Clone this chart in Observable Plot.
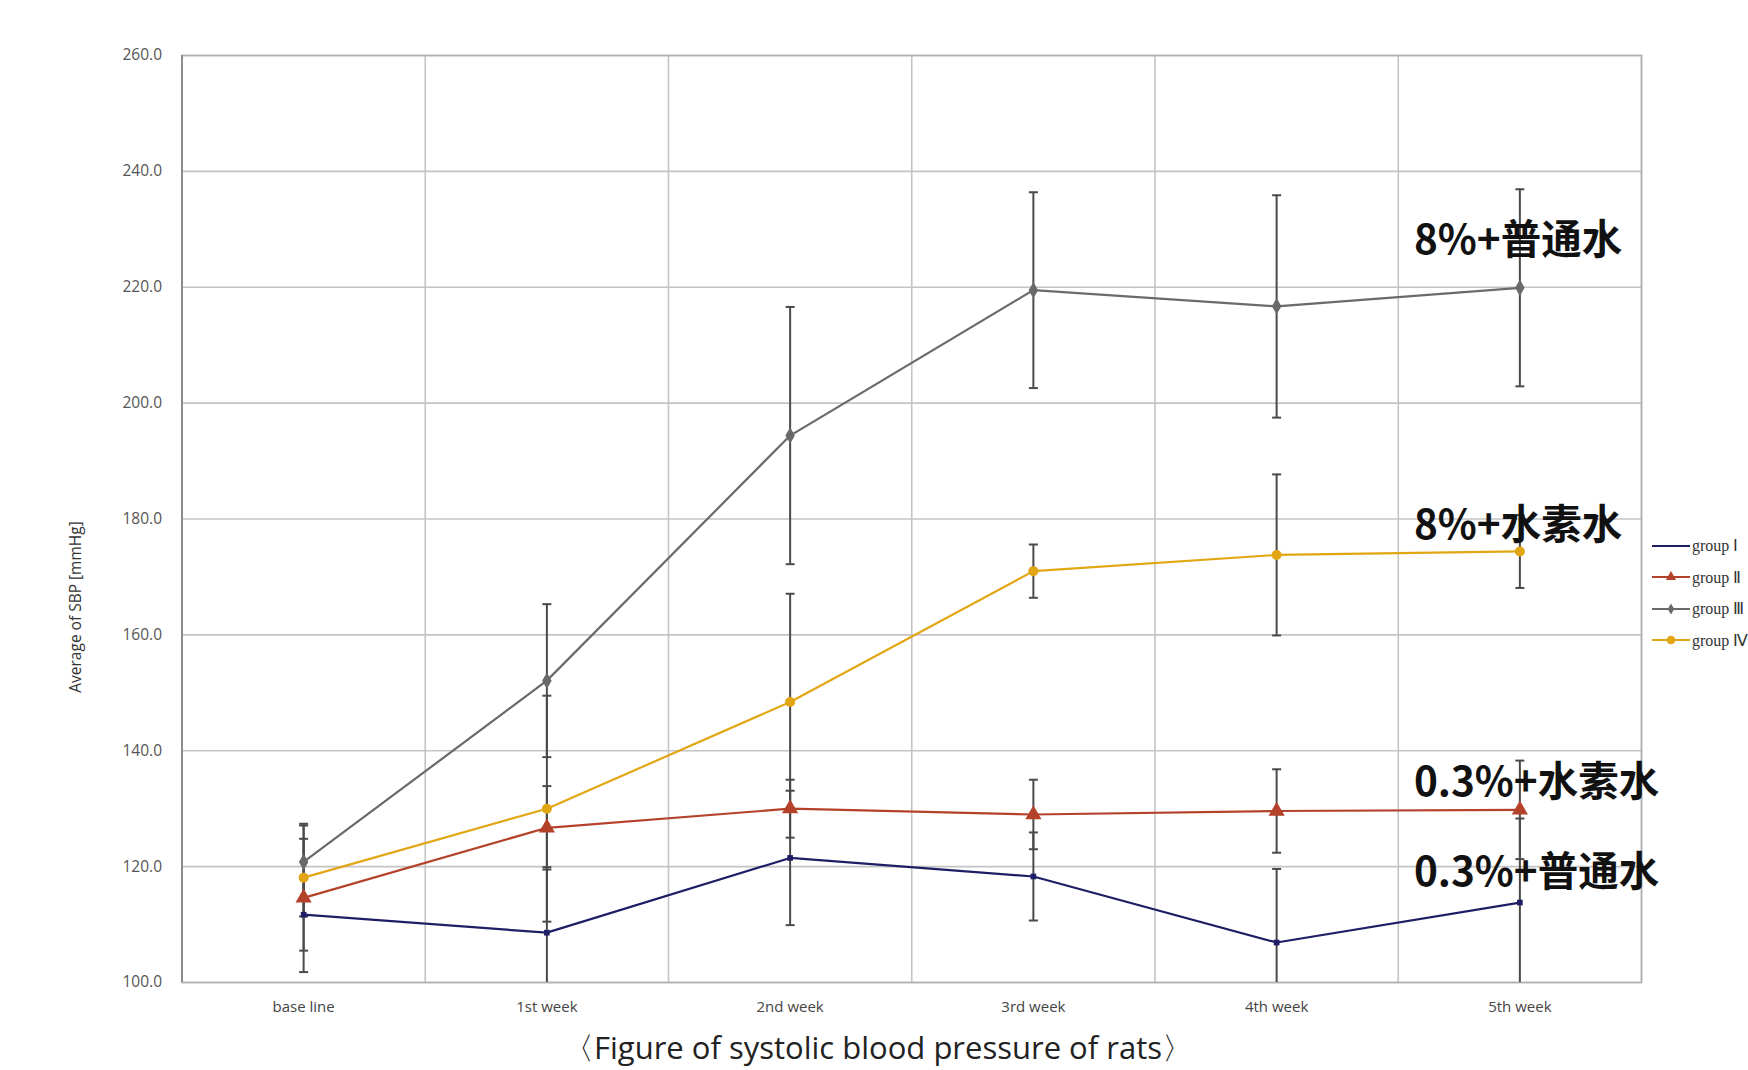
<!DOCTYPE html>
<html>
<head>
<meta charset="utf-8">
<script src="https://cdn.jsdelivr.net/npm/d3@7"></script>
<script src="https://cdn.jsdelivr.net/npm/@observablehq/plot@0.6"></script>
<style>
  html, body { margin: 0; padding: 0; background: #fff; width: 1748px; height: 1070px; overflow: hidden; }
  #wrap { position: relative; width: 1748px; height: 1070px; overflow: hidden; }
  #chart { position: absolute; left: 0; top: 0; }
  #caption { position: absolute; left: 0; width: 1756px; text-align: center; top: 1032px; line-height: 1;
    font-family: "Liberation Sans Narrow", "Open Sans", sans-serif; font-size: 31px; color: #222; white-space: nowrap; }
  #legend { position: absolute; left: 1652px; top: 530px; font-family: "Liberation Serif", serif; font-size: 16px; color: #333; }
  .li { display: flex; align-items: center; height: 31.5px; white-space: nowrap; }
  .li svg { margin-right: 2px; }
</style>
</head>
<body>
<div id="wrap">
  <div id="chart"></div>
  <div id="legend"></div>
  <div id="caption">〈Figure of systolic blood pressure of rats〉</div>
</div>
<script>
const weeks = ["base line", "1st week", "2nd week", "3rd week", "4th week", "5th week"];
const groups = ["group Ⅰ", "group Ⅱ", "group Ⅲ", "group Ⅳ"];
const groupI   = [111.7, 108.6, 121.5, 118.3, 106.9, 113.8];
const groupII  = [114.6, 126.7, 130.0, 129.0, 129.6, 129.8];
const groupIII = [120.8, 152.1, 194.4, 219.5, 216.7, 219.9];
const groupIV  = [118.1, 130.0, 148.4, 171.0, 173.8, 174.4];
const sdI   = [6.2, 11.3, 11.6, 7.6, 12.7, 14.5];
const sdII  = [12.8, 7.2, 5.0, 6.0, 7.2, 8.5];
const sdIII = [6.3, 13.2, 22.2, 16.9, 19.2, 17.0];
const sdIV  = [6.7, 19.5, 18.7, 4.6, 13.9, 6.3];
const annotations = ["0.3%+普通水", "0.3%+水素水", "8%+普通水", "8%+水素水"];
const yTicks = [100, 120, 140, 160, 180, 200, 220, 240, 260];

const colors = ["#1e1e66", "#b4422a", "#6a6a6a", "#e2a614"];
const symbols = ["square", "triangle", "diamond", "circle"];
const symSizes = [3.2, 6, 5, 5];
const annDy = [-30, -27, -47, -25];

const means = [groupI, groupII, groupIII, groupIV];
const sds = [sdI, sdII, sdIII, sdIV];

const rows = [];
groups.forEach((g, gi) => {
  weeks.forEach((w, i) => {
    rows.push({group: g, gi, i, week: w, y: means[gi][i], lo: means[gi][i] - sds[gi][i], hi: means[gi][i] + sds[gi][i]});
  });
});
const lastRows = groups.map((g, gi) => ({group: g, gi, i: weeks.length - 1, y: means[gi][weeks.length - 1], label: annotations[gi]}));

const capSymbol = {draw(ctx, size) { ctx.moveTo(-4.5, 0); ctx.lineTo(4.5, 0); }};
const bounds = d3.range(weeks.length + 1).map(k => k - 0.5);
const axisFont = "Liberation Sans Narrow, Open Sans, sans-serif";

const annMarks = lastRows.map((d, gi) =>
  Plot.text([d], {x: "i", y: "y", text: "label", textAnchor: "start", dx: -106, dy: annDy[gi],
    fontSize: 40.5, fontWeight: "bold", fill: "#111", fontFamily: "Noto Sans CJK SC, sans-serif"}));

const pointMarks = groups.map((g, gi) =>
  Plot.dot(rows.filter(d => d.gi === gi), {x: "i", y: "y", symbol: symbols[gi], r: symSizes[gi], fill: colors[gi], stroke: "none"}));

const plot = Plot.plot({
  width: 1748,
  height: 1020,
  marginTop: 55,
  marginBottom: 38,
  marginLeft: 181.5,
  marginRight: 107,
  style: {background: "transparent"},
  x: {type: "linear", domain: [-0.5, weeks.length - 0.5]},
  y: {domain: [100, 260]},
  marks: [
    Plot.gridY(yTicks, {stroke: "#c4c4c4", strokeOpacity: 1, strokeWidth: 1.6}),
    Plot.ruleX(bounds, {stroke: "#c4c4c4", strokeWidth: 1.6}),
    Plot.frame({stroke: "#b0b0b0", strokeWidth: 1.6}),
    Plot.ruleX([-0.5], {stroke: "#8c8c8c", strokeWidth: 2}),
    Plot.axisY(yTicks, {tickSize: 0, tickPadding: 20, tickFormat: d => d.toFixed(1), fontSize: 15.5, fill: "#555", label: null,
      fontFamily: axisFont}),
    Plot.axisX(d3.range(weeks.length), {tickSize: 0, tickPadding: 19, tickFormat: i => weeks[i], fontSize: 15, fill: "#444", label: null,
      fontFamily: axisFont}),
    Plot.text(["Average of SBP [mmHg]"], {frameAnchor: "left", rotate: -90, textAnchor: "middle", dx: -106, dy: 88, fontSize: 15.5, fill: "#333",
      fontFamily: axisFont}),
    // error bars
    Plot.ruleX(rows, {x: "i", y1: "lo", y2: "hi", stroke: "#4a4a4a", strokeWidth: 2, clip: true}),
    Plot.dot(rows, {x: "i", y: "hi", symbol: capSymbol, stroke: "#4a4a4a", strokeWidth: 2, clip: true}),
    Plot.dot(rows, {x: "i", y: "lo", symbol: capSymbol, stroke: "#4a4a4a", strokeWidth: 2, clip: true}),
    // lines
    Plot.line(rows, {x: "i", y: "y", z: "group", stroke: d => colors[d.gi], strokeWidth: 2.2}),
    ...pointMarks,
    ...annMarks
  ]
});
plot.style.fontFamily = axisFont;
document.getElementById("chart").appendChild(plot);

// legend
const legend = d3.select("#legend");
groups.forEach((g, gi) => {
  const row = legend.append("div").attr("class", "li");
  const s = row.append("svg").attr("width", 38).attr("height", 12);
  s.append("line").attr("x1", 0).attr("x2", 38).attr("y1", 6).attr("y2", 6).attr("stroke", colors[gi]).attr("stroke-width", 2);
  if (gi > 0) {
    const sym = [null, d3.symbolTriangle, d3.symbolDiamond, d3.symbolCircle][gi];
    s.append("path").attr("d", d3.symbol(sym, [0, 45, 36, 60][gi])()).attr("transform", "translate(19,6)").attr("fill", colors[gi]);
  }
  row.append("span").text(g);
});
</script>
</body>
</html>
